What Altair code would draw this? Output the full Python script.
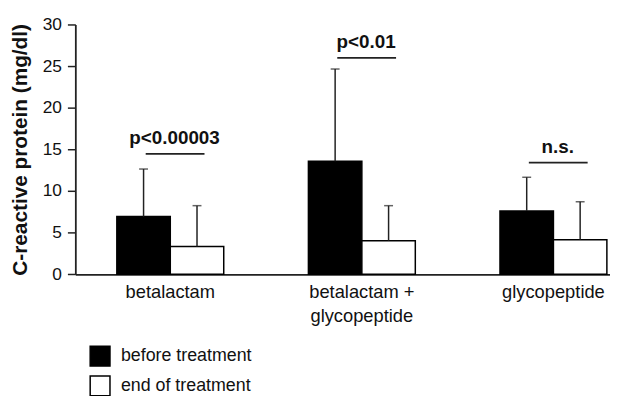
import altair as alt
import pandas as pd

categories = ["betalactam", "betalactam + glycopeptide", "glycopeptide"]
series = ["before treatment", "end of treatment"]
before_mean = [6.93, 13.56, 7.61]
before_upper = [12.64, 24.65, 11.65]
end_mean = [3.33, 4.04, 4.16]
end_upper = [8.24, 8.24, 8.72]
sig_labels = ["p<0.00003", "p<0.01", "n.s."]
sig_level = [14.47, 26.0, 13.4]
y_ticks = [0, 5, 10, 15, 20, 25, 30]

rows = []
for i, c in enumerate(categories):
    rows.append({"cat": c, "series": series[0], "mean": before_mean[i], "upper": before_upper[i]})
    rows.append({"cat": c, "series": series[1], "mean": end_mean[i], "upper": end_upper[i]})
bars_df = pd.DataFrame(rows)
sig_df = pd.DataFrame({"cat": categories, "label": sig_labels, "level": sig_level})

FONT = "Liberation Sans"

x_scale = alt.Scale(domain=categories, paddingInner=0.442, paddingOuter=0.1165, align=0.93)
x_enc = alt.X(
    "cat:N",
    scale=x_scale,
    sort=categories,
    axis=alt.Axis(
        title=None,
        labelAngle=0,
        ticks=False,
        tickSize=0,
        labelPadding=8,
        labelFontSize=18.5,
        labelFont=FONT,
        labelColor="#111",
        labelLineHeight=25,
        labelExpr="datum.label == 'betalactam + glycopeptide' ? ['betalactam +', 'glycopeptide'] : datum.label",
        domainColor="#222",
        domainWidth=1.8,
    ),
)
xoff = alt.XOffset("series:N", scale=alt.Scale(domain=series, paddingInner=0, paddingOuter=0))
y_scale = alt.Scale(domain=[0, 30], nice=False)

base = alt.Chart(bars_df)

bars = base.mark_bar(stroke="black", strokeWidth=1.5).encode(
    x=x_enc,
    xOffset=xoff,
    y=alt.Y(
        "mean:Q",
        scale=y_scale,
        axis=alt.Axis(
            values=y_ticks,
            title="C-reactive protein (mg/dl)",
            titleFont=FONT,
            titleFontSize=21,
            titleFontWeight="bold",
            titleColor="#111",
            titlePadding=12,
            labelFont=FONT,
            labelFontSize=17.5,
            labelColor="#111",
            labelPadding=6,
            tickSize=8,
            tickColor="#222",
            tickWidth=1.5,
            domainColor="#222",
            domainWidth=1.8,
            grid=False,
        ),
    ),
    color=alt.Color(
        "series:N",
        scale=alt.Scale(domain=series, range=["black", "white"]),
        legend=alt.Legend(
            title=None,
            orient="none",
            legendX=14,
            legendY=324,
            padding=0,
            symbolType="square",
            symbolSize=400,
            symbolStrokeColor="black",
            symbolStrokeWidth=1.5,
            symbolFillColor="white",
            labelFont=FONT,
            labelFontSize=18,
            labelColor="#111",
            labelOffset=10,
            rowPadding=4,
            direction="vertical",
        ),
    ),
)

err = base.mark_rule(color="#222", strokeWidth=1.5).encode(
    x=alt.X("cat:N", sort=categories),
    xOffset="series:N",
    y="mean:Q",
    y2="upper:Q",
)

caps = base.mark_tick(color="#222", thickness=1.5, size=9).encode(
    x=alt.X("cat:N", sort=categories),
    xOffset="series:N",
    y="upper:Q",
)

sig_base = alt.Chart(sig_df)
sig_line = sig_base.mark_rule(color="#222", strokeWidth=1.8).encode(
    x=alt.X("cat:N", sort=categories, bandPosition=0.27),
    x2=alt.X2("cat", bandPosition=0.82),
    y="level:Q",
)
sig_text = sig_base.mark_text(
    font=FONT, fontSize=19, fontWeight="bold", color="#111", baseline="alphabetic", dy=-10
).encode(
    x=alt.X("cat:N", sort=categories, bandPosition=0.54),
    y="level:Q",
    text="label:N",
)

chart = (
    alt.layer(bars, err, caps, sig_line, sig_text)
    .properties(
        width=540,
        height=252.3,
        autosize=alt.AutoSizeParams(type="none"),
        padding={"left": 68, "top": 14.7, "right": 0, "bottom": 121},
        background="white",
    )
    .configure_view(stroke=None)
)

chart.save("out.html", embed_options={"renderer": "svg", "actions": False})
